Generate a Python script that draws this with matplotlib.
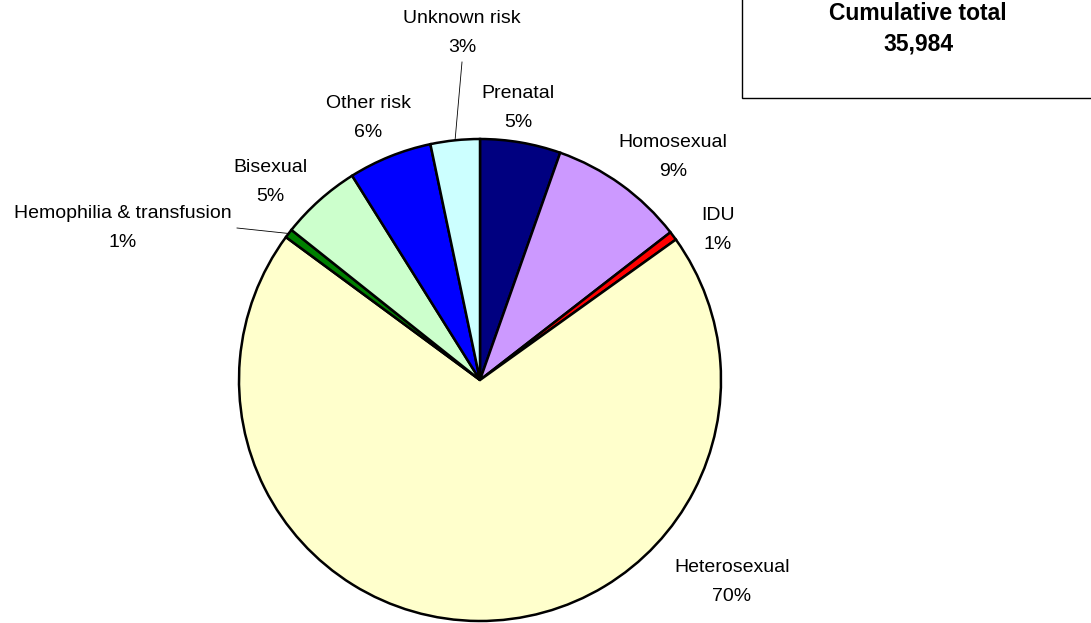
import matplotlib
matplotlib.use("Agg")
import matplotlib.pyplot as plt
import numpy as np
from matplotlib.patches import Rectangle

plt.rcParams["font.family"] = ["Liberation Sans", "DejaVu Sans"]

# data (percent of cumulative cases), clockwise from 12 o'clock
categories = ["Prenatal", "Homosexual", "IDU", "Heterosexual",
              "Hemophilia & transfusion", "Bisexual", "Other risk", "Unknown risk"]
shares = [5.4, 9.1, 0.6, 70.0, 0.6, 5.4, 5.6, 3.3]
colors = ["#000080", "#CC99FF", "#FF0000", "#FFFFCC",
          "#008000", "#CCFFCC", "#0000FF", "#CCFFFF"]
cumulative_total = 35984

W, H = 1091, 623
# layout in pixel space (origin top-left)
center_px = (480, 380)
radius_px = 241
label_px = {
    "Prenatal": (518, 108),
    "Homosexual": (673, 157),
    "IDU": (718, 230),
    "Heterosexual": (732, 582),
    "Hemophilia & transfusion": (123, 228),
    "Bisexual": (270, 182),
    "Other risk": (368, 118),
    "Unknown risk": (462, 33),
}
leaders = {
    "Unknown risk": (462, 62),
    "Hemophilia & transfusion": (237, 228),
}

fig = plt.figure(figsize=(W / 100, H / 100), dpi=100)
ax = fig.add_axes([0, 0, 1, 1])

cx, cy = center_px[0], H - center_px[1]
wedges, _ = ax.pie(shares, colors=colors, startangle=90, counterclock=False,
                   center=(cx, cy), radius=radius_px, frame=True,
                   wedgeprops=dict(edgecolor="black", linewidth=1.8))
ax.set_xlim(0, W)
ax.set_ylim(0, H)
ax.set_aspect("equal")
ax.axis("off")

for w, name, val in zip(wedges, categories, shares):
    lx, ly = label_px[name]
    ax.text(lx, H - ly, f"{name}\n{round(val):d}%", ha="center", va="center",
            fontsize=14, linespacing=1.95, color="black")
    if name in leaders:
        mid = np.deg2rad((w.theta1 + w.theta2) / 2)
        ex = cx + radius_px * np.cos(mid)
        ey = cy + radius_px * np.sin(mid)
        tx, ty = leaders[name]
        ax.plot([ex, tx], [ey, H - ty], color="black", linewidth=0.6)

ax.add_patch(Rectangle((742, H - 98), 400, 120, facecolor="white",
                       edgecolor="black", linewidth=1.0, clip_on=True))
ax.text(918, H - 29, f"Cumulative total\n{cumulative_total:,}", ha="center",
        va="center", fontsize=16.5, fontweight="bold", linespacing=1.4)

fig.savefig("out.png", dpi=100, facecolor="white")
